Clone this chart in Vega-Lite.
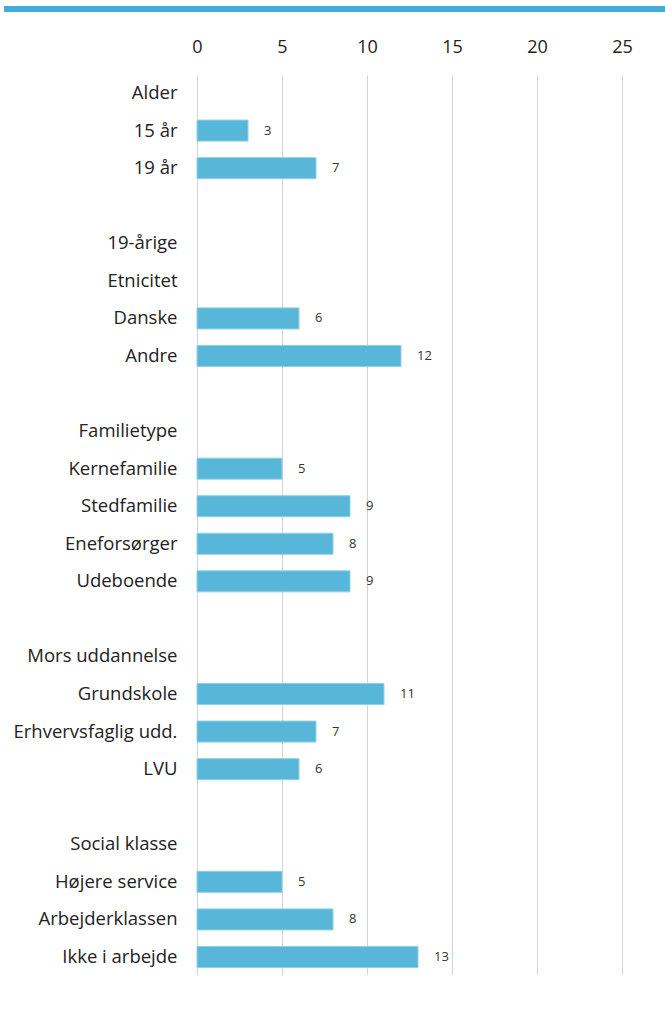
{
  "$schema": "https://vega.github.io/schema/vega-lite/v6.json",
  "padding": {"left": 0, "top": 6, "right": 0, "bottom": 0},
  "background": "white",
  "spacing": 26,
  "config": {"view": {"stroke": null}, "font": "Open Sans"},
  "vconcat": [
    {
      "width": 425,
      "height": 6,
      "data": {"values": [{"from": -11.35, "to": 27.6}]},
      "mark": {"type": "rect", "color": "#41acd8", "clip": false},
      "encoding": {
        "x": {"field": "from", "type": "quantitative", "scale": {"domain": [0, 25], "nice": false, "zero": false}, "axis": null},
        "x2": {"field": "to"}
      }
    },
    {
      "width": 425,
      "height": 900,
      "data": {"values": [
        {"key": "00|Alder", "value": null},
        {"key": "01|15 år", "value": 3},
        {"key": "02|19 år", "value": 7},
        {"key": "03|", "value": null},
        {"key": "04|19-årige", "value": null},
        {"key": "05|Etnicitet", "value": null},
        {"key": "06|Danske", "value": 6},
        {"key": "07|Andre", "value": 12},
        {"key": "08|", "value": null},
        {"key": "09|Familietype", "value": null},
        {"key": "10|Kernefamilie", "value": 5},
        {"key": "11|Stedfamilie", "value": 9},
        {"key": "12|Eneforsørger", "value": 8},
        {"key": "13|Udeboende", "value": 9},
        {"key": "14|", "value": null},
        {"key": "15|Mors uddannelse", "value": null},
        {"key": "16|Grundskole", "value": 11},
        {"key": "17|Erhvervsfaglig udd.", "value": 7},
        {"key": "18|LVU", "value": 6},
        {"key": "19|", "value": null},
        {"key": "20|Social klasse", "value": null},
        {"key": "21|Højere service", "value": 5},
        {"key": "22|Arbejderklassen", "value": 8},
        {"key": "23|Ikke i arbejde", "value": 13}
      ]},
      "transform": [{"filter": "datum.value != null"}],
      "encoding": {
        "y": {
          "field": "key", "type": "nominal", "sort": null, "title": null,
          "scale": {
            "domain": ["00|Alder","01|15 år","02|19 år","03|","04|19-årige","05|Etnicitet","06|Danske","07|Andre","08|","09|Familietype","10|Kernefamilie","11|Stedfamilie","12|Eneforsørger","13|Udeboende","14|","15|Mors uddannelse","16|Grundskole","17|Erhvervsfaglig udd.","18|LVU","19|","20|Social klasse","21|Højere service","22|Arbejderklassen","23|Ikke i arbejde"],
            "paddingInner": 0.44, "paddingOuter": 0.2
          },
          "axis": {
            "orient": "left", "domain": false, "ticks": false, "grid": false,
            "labelPadding": 20, "labelFontSize": 18.5, "labelFontWeight": "normal", "labelColor": "#222222",
            "labelExpr": "substring(datum.value, 3)",
            "minExtent": 197, "maxExtent": 197, "labelLimit": 0
          }
        },
        "x": {
          "field": "value", "type": "quantitative", "title": null,
          "scale": {"domain": [0, 25], "nice": false},
          "axis": {
            "orient": "top", "values": [0, 5, 10, 15, 20, 25], "domain": false, "ticks": false,
            "grid": true, "gridColor": "#d4d4d4", "gridWidth": 1, "labelFlush": false,
            "labelPadding": 19, "labelFontSize": 18, "labelFontWeight": "normal", "labelColor": "#222222"
          }
        }
      },
      "layer": [
        {"mark": {"type": "bar", "color": "#58b7d8", "stroke": "#8fd0e8", "strokeWidth": 1}},
        {"mark": {"type": "text", "align": "left", "baseline": "middle", "dx": 16, "fontSize": 13, "color": "#333333"},
         "encoding": {"text": {"field": "value", "type": "quantitative"}}}
      ]
    }
  ]
}
